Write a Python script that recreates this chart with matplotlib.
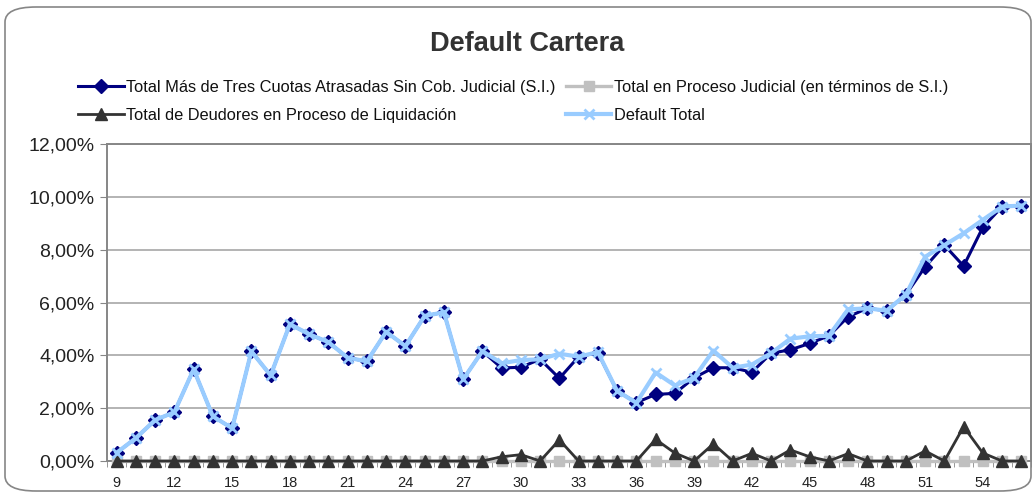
import matplotlib.pyplot as plt
from matplotlib.patches import FancyBboxPatch
from matplotlib.ticker import FixedLocator, FuncFormatter

# periods shown on the category axis
periods = list(range(9, 57))

# Total Más de Tres Cuotas Atrasadas Sin Cob. Judicial (S.I.)  (%)
mas_tres_cuotas = [0.31, 0.87, 1.55, 1.85, 3.47, 1.69, 1.24, 4.15, 3.24, 5.18,
                   4.80, 4.50, 3.91, 3.77, 4.89, 4.35, 5.49, 5.63, 3.09, 4.16,
                   3.52, 3.55, 3.85, 3.13, 3.95, 4.10, 2.65, 2.21, 2.52, 2.56,
                   3.15, 3.53, 3.53, 3.36, 4.08, 4.21, 4.45, 4.74, 5.46, 5.78,
                   5.69, 6.30, 7.35, 8.17, 7.38, 8.85, 9.63, 9.67]

# Total en Proceso Judicial (en términos de S.I.)  (%)
proceso_judicial = [0.0] * 48

# Total de Deudores en Proceso de Liquidación  (%)
liquidacion = [0, 0, 0, 0, 0, 0, 0, 0, 0, 0,
               0, 0, 0, 0, 0, 0, 0, 0, 0, 0,
               0.16, 0.24, 0, 0.80, 0, 0, 0, 0, 0.82, 0.30,
               0, 0.65, 0, 0.29, 0, 0.42, 0.16, 0, 0.28, 0,
               0, 0, 0.38, 0, 1.30, 0.30, 0, 0]

# Default Total  (%)
default_total = [0.31, 0.87, 1.55, 1.85, 3.47, 1.69, 1.24, 4.15, 3.24, 5.18,
                 4.80, 4.50, 3.91, 3.77, 4.89, 4.35, 5.49, 5.63, 3.09, 4.16,
                 3.70, 3.82, 3.85, 4.06, 3.95, 4.12, 2.65, 2.20, 3.35, 2.86,
                 3.15, 4.18, 3.53, 3.65, 4.08, 4.63, 4.72, 4.74, 5.74, 5.78,
                 5.69, 6.30, 7.73, 8.17, 8.62, 9.13, 9.63, 9.67]

labels = ["Total Más de Tres Cuotas Atrasadas Sin Cob. Judicial (S.I.)",
          "Total en Proceso Judicial (en términos de S.I.)",
          "Total de Deudores en Proceso de Liquidación",
          "Default Total"]

plt.rcParams['font.family'] = ['Liberation Sans', 'DejaVu Sans']

W, H = 1036, 499
fig = plt.figure(figsize=(W / 100, H / 100), dpi=100)

# rounded chart border
frame = FancyBboxPatch((5 / W, 8 / H), 1026 / W, 484 / H,
                       boxstyle="round,pad=0,rounding_size=0.03",
                       transform=fig.transFigure, facecolor='none',
                       edgecolor='#868686', linewidth=1.2, zorder=-1)
fig.patches.append(frame)

ax = fig.add_axes([107 / W, 1 - 461 / H, (1031 - 107) / W, (461 - 144) / H])
ax.set_facecolor('none')

l1, = ax.plot(periods, mas_tres_cuotas, color='#000080', lw=2.2, marker='D',
              ms=7.5, clip_on=False, zorder=3)
l2, = ax.plot(periods, proceso_judicial, color='#C0C0C0', lw=2.4, marker='s',
              ms=6.5, clip_on=False, zorder=4)
l3, = ax.plot(periods, liquidacion, color='#333333', lw=2.0, marker='^',
              ms=8.5, clip_on=False, zorder=5)
l4, = ax.plot(periods, default_total, color='#99CCFF', lw=3.0, marker='x',
              ms=7.5, mew=2.0, clip_on=False, zorder=6)

ax.set_xlim(8.5, 56.5)
ax.set_ylim(0, 12)
ax.xaxis.set_major_locator(FixedLocator(periods[::3]))
ax.xaxis.set_minor_locator(FixedLocator([p + 0.5 for p in range(8, 57)]))
ax.tick_params(axis='x', which='major', length=0, pad=11, labelsize=10.5, labelcolor='#222222')
ax.tick_params(axis='x', which='minor', length=4, color='#868686')
ax.set_yticks(range(0, 13, 2))
ax.yaxis.set_major_formatter(FuncFormatter(lambda v, p: f"{v:.2f}".replace('.', ',') + '%'))
ax.tick_params(axis='y', length=5, color='#868686', labelsize=14, labelcolor='#222222', pad=4)
ax.grid(axis='y', color='#B3B3B3', lw=1.4)
ax.set_axisbelow(True)
for side in ['left', 'right', 'top', 'bottom']:
    ax.spines[side].set_color('#868686')
    ax.spines[side].set_linewidth(1.4)

fig.text(527 / W, 1 - 44 / H, "Default Cartera", ha='center', va='center',
         fontsize=19.5, fontweight='bold', color='#333333')

leg = fig.legend([l1, l3, l2, l4], [labels[0], labels[2], labels[1], labels[3]],
                 ncol=2, loc='upper left', bbox_to_anchor=(78 / W, 1 - 80 / H),
                 frameon=False, fontsize=11.8, handlelength=2.8, handletextpad=0.15,
                 columnspacing=0.6, labelspacing=0.8, borderpad=0, borderaxespad=0)
for t in leg.get_texts():
    t.set_color('#111111')

fig.savefig('out.png', dpi=100)
